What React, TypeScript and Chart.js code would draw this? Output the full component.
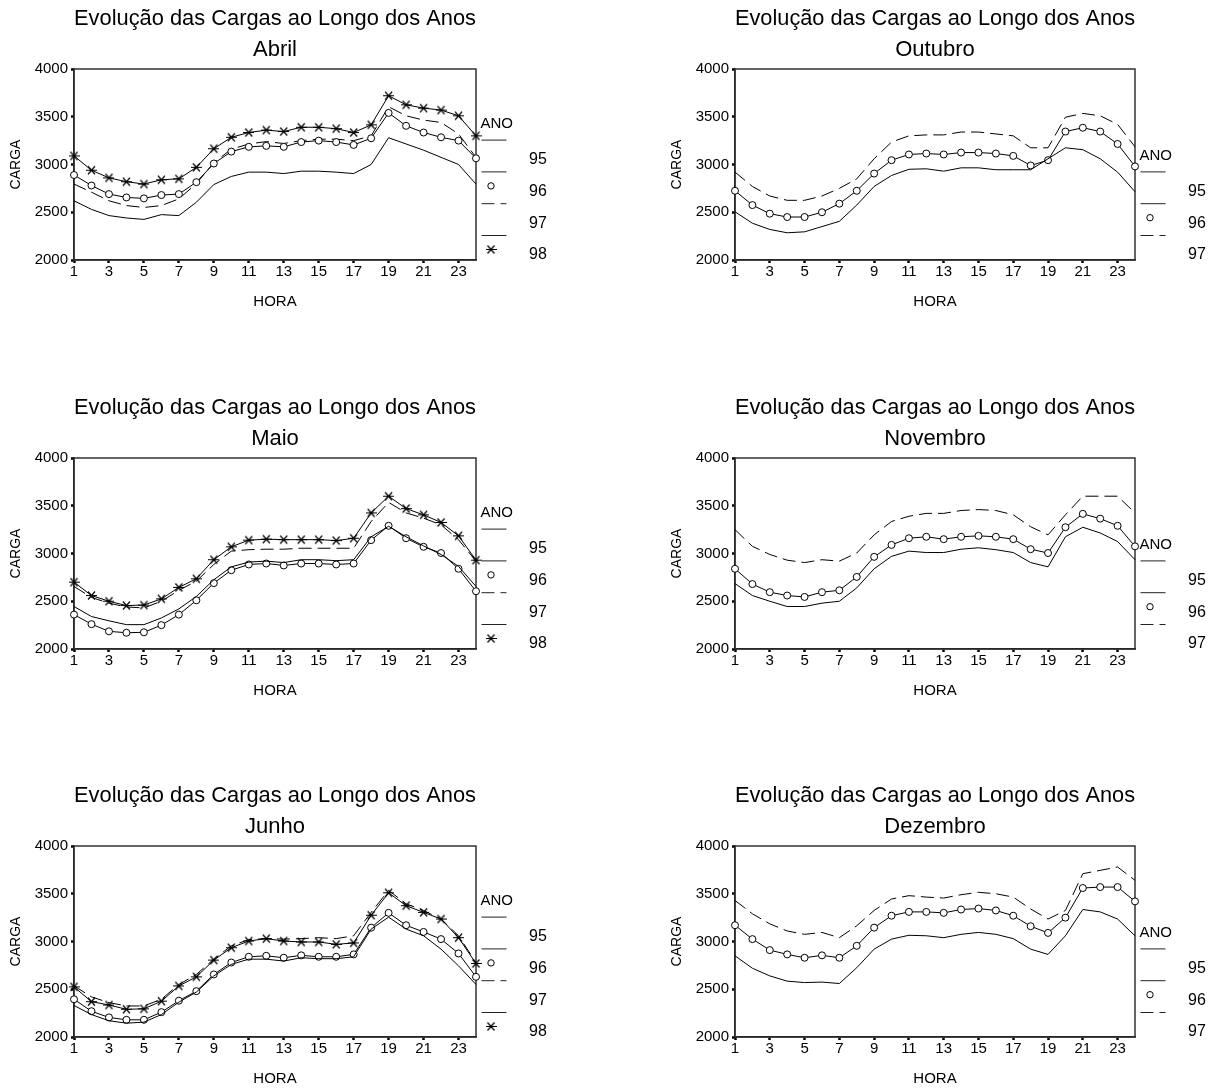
import React, { useEffect, useRef } from 'react';
import { Chart, registerables } from 'chart.js';

Chart.register(...registerables);

// ---------- data ----------
const HOURS = [1, 2, 3, 4, 5, 6, 7, 8, 9, 10, 11, 12, 13, 14, 15, 16, 17, 18, 19, 20, 21, 22, 23, 24];
const X_TICKS = [1, 3, 5, 7, 9, 11, 13, 15, 17, 19, 21, 23];
const Y_TICKS = [2000, 2500, 3000, 3500, 4000];
const Y_MIN = 2000;
const Y_MAX = 4000;
const TITLE = 'Evolução das Cargas ao Longo dos Anos';
const X_TITLE = 'HORA';
const Y_TITLE = 'CARGA';
const LEGEND_TITLE = 'ANO';

const abril95 = [2620, 2530, 2465, 2440, 2425, 2475, 2465, 2605, 2790, 2875, 2920, 2920, 2905, 2930, 2930, 2920, 2905, 3000, 3280, 3215, 3150, 3075, 3000, 2795];
const abril96 = [2890, 2780, 2690, 2655, 2645, 2680, 2690, 2815, 3010, 3135, 3185, 3195, 3185, 3235, 3250, 3235, 3205, 3275, 3540, 3405, 3335, 3285, 3250, 3065];
const abril97 = [2795, 2710, 2620, 2570, 2550, 2570, 2640, 2800, 3020, 3160, 3215, 3240, 3220, 3250, 3265, 3265, 3250, 3300, 3605, 3510, 3465, 3440, 3320, 3075];
const abril98 = [3090, 2940, 2860, 2820, 2795, 2840, 2850, 2970, 3165, 3285, 3335, 3360, 3345, 3390, 3390, 3375, 3335, 3415, 3720, 3625, 3590, 3570, 3510, 3300];

const outubro95 = [2505, 2385, 2320, 2285, 2295, 2350, 2405, 2575, 2770, 2885, 2950, 2955, 2930, 2965, 2965, 2945, 2945, 2945, 3060, 3175, 3155, 3060, 2920, 2715];
const outubro96 = [2725, 2575, 2485, 2450, 2450, 2500, 2590, 2725, 2905, 3045, 3105, 3115, 3105, 3125, 3125, 3115, 3090, 2990, 3045, 3345, 3385, 3345, 3215, 2980];
const outubro97 = [2920, 2770, 2670, 2625, 2625, 2670, 2750, 2850, 3060, 3235, 3300, 3310, 3310, 3340, 3340, 3320, 3300, 3175, 3175, 3495, 3535, 3510, 3420, 3185];

const maio95 = [2445, 2340, 2295, 2255, 2255, 2325, 2420, 2550, 2725, 2860, 2910, 2920, 2905, 2935, 2935, 2925, 2935, 3175, 3285, 3175, 3080, 2990, 2865, 2655];
const maio96 = [2360, 2260, 2185, 2170, 2175, 2250, 2360, 2510, 2690, 2825, 2885, 2895, 2875, 2895, 2895, 2885, 2895, 3140, 3290, 3160, 3070, 3005, 2840, 2605];
const maio97 = [2655, 2540, 2480, 2440, 2430, 2500, 2615, 2710, 2885, 3025, 3040, 3045, 3045, 3055, 3055, 3055, 3055, 3335, 3535, 3425, 3370, 3300, 3145, 2920];
const maio98 = [2700, 2560, 2500, 2455, 2460, 2525, 2645, 2735, 2935, 3070, 3140, 3150, 3145, 3145, 3145, 3135, 3160, 3425, 3600, 3470, 3405, 3325, 3185, 2930];

const novembro95 = [2685, 2560, 2500, 2445, 2445, 2480, 2500, 2640, 2840, 2970, 3025, 3010, 3010, 3045, 3060, 3040, 3010, 2905, 2860, 3175, 3275, 3215, 3125, 2935];
const novembro96 = [2840, 2680, 2595, 2560, 2545, 2595, 2615, 2755, 2965, 3090, 3160, 3175, 3150, 3175, 3185, 3175, 3150, 3045, 3005, 3275, 3415, 3365, 3290, 3075];
const novembro97 = [3250, 3075, 2990, 2930, 2905, 2935, 2920, 3005, 3195, 3335, 3390, 3420, 3420, 3450, 3460, 3450, 3405, 3280, 3195, 3405, 3600, 3600, 3600, 3425];

const junho95 = [2330, 2235, 2170, 2145, 2155, 2235, 2365, 2470, 2640, 2760, 2815, 2815, 2795, 2830, 2820, 2820, 2840, 3130, 3255, 3130, 3060, 2920, 2745, 2550];
const junho96 = [2395, 2270, 2205, 2180, 2180, 2260, 2380, 2480, 2655, 2780, 2840, 2850, 2830, 2855, 2840, 2840, 2865, 3145, 3300, 3170, 3100, 3025, 2875, 2630];
const junho97 = [2535, 2420, 2360, 2325, 2325, 2395, 2550, 2655, 2815, 2955, 3020, 3030, 3025, 3030, 3040, 3030, 3060, 3305, 3535, 3395, 3325, 3235, 3060, 2780];
const junho98 = [2525, 2370, 2335, 2290, 2295, 2375, 2535, 2630, 2805, 2935, 3005, 3030, 3005, 2995, 2995, 2970, 2985, 3275, 3510, 3375, 3305, 3235, 3040, 2770];

const dezembro95 = [2850, 2720, 2640, 2585, 2570, 2575, 2560, 2725, 2920, 3025, 3065, 3060, 3040, 3075, 3095, 3075, 3030, 2920, 2865, 3060, 3335, 3310, 3235, 3060];
const dezembro96 = [3170, 3025, 2910, 2865, 2830, 2855, 2830, 2955, 3145, 3270, 3310, 3310, 3300, 3335, 3345, 3325, 3270, 3160, 3090, 3250, 3560, 3570, 3570, 3420];
const dezembro97 = [3430, 3290, 3185, 3110, 3075, 3095, 3040, 3165, 3325, 3445, 3480, 3465, 3455, 3490, 3515, 3500, 3465, 3340, 3235, 3325, 3710, 3745, 3780, 3640];

const YEARS_4 = ['95', '96', '97', '98'];
const YEARS_3 = ['95', '96', '97'];

const PANELS = [
  { month: 'Abril', years: YEARS_4, series: [abril95, abril96, abril97, abril98], col: 0, row: 0 },
  { month: 'Outubro', years: YEARS_3, series: [outubro95, outubro96, outubro97], col: 1, row: 0 },
  { month: 'Maio', years: YEARS_4, series: [maio95, maio96, maio97, maio98], col: 0, row: 1 },
  { month: 'Novembro', years: YEARS_3, series: [novembro95, novembro96, novembro97], col: 1, row: 1 },
  { month: 'Junho', years: YEARS_4, series: [junho95, junho96, junho97, junho98], col: 0, row: 2 },
  { month: 'Dezembro', years: YEARS_3, series: [dezembro95, dezembro96, dezembro97], col: 1, row: 2 },
];

// ---------- layout / style ----------
const FONT = 'Arial, "Liberation Sans", Helvetica, sans-serif';
const COLS = [
  { left: 0, width: 600, padRight: 124 },
  { left: 661, width: 555, padRight: 81 },
];
const ROW_TOPS = [0, 389, 777];
const CANVAS_H = 320;
const DASH = [13, 6];

let starImg: HTMLCanvasElement | null = null;
function getStar(): HTMLCanvasElement {
  if (starImg) return starImg;
  const c = document.createElement('canvas');
  c.width = 11;
  c.height = 11;
  const g = c.getContext('2d')!;
  g.strokeStyle = '#000';
  g.lineWidth = 1.2;
  g.beginPath();
  g.moveTo(0, 5.5);
  g.lineTo(11, 5.5);
  g.moveTo(2, 1.5);
  g.lineTo(9, 9.5);
  g.moveTo(9, 1.5);
  g.lineTo(2, 9.5);
  g.stroke();
  starImg = c;
  return c;
}

function styleFor(year: string) {
  if (year === '96') return { borderDash: [], pointStyle: 'circle' as any, pointRadius: 3.5 };
  if (year === '97') return { borderDash: DASH, pointStyle: false as any, pointRadius: 0 };
  if (year === '98') return { borderDash: [], pointStyle: getStar() as any, pointRadius: 5 };
  return { borderDash: [], pointStyle: false as any, pointRadius: 0 };
}

const framePlugin = {
  id: 'frame',
  beforeDatasetsDraw(chart: any) {
    const { ctx, chartArea } = chart;
    const { left, top, right, bottom } = chartArea;
    ctx.save();
    ctx.strokeStyle = '#333';
    ctx.lineWidth = 1.5;
    ctx.strokeRect(left, top, right - left, bottom - top);
    ctx.restore();
  },
};

const anoLegend = {
  id: 'anoLegend',
  afterDraw(chart: any) {
    const { ctx, chartArea } = chart;
    const { right, top } = chartArea;
    const ds = chart.data.datasets;
    const n = ds.length;
    const step = 31.8;
    const lastY = top + 166.5;
    const firstY = lastY - (n - 1) * step;
    ctx.save();
    ctx.fillStyle = '#000';
    ctx.textBaseline = 'middle';
    ctx.textAlign = 'left';
    ctx.font = `15px ${FONT}`;
    ctx.fillText(LEGEND_TITLE, right + 4.5, firstY - 16);
    ds.forEach((d: any, i: number) => {
      const y = firstY + i * step;
      ctx.strokeStyle = '#222';
      ctx.lineWidth = 1;
      ctx.setLineDash(d.borderDash || []);
      ctx.beginPath();
      ctx.moveTo(right + 5.5, y);
      ctx.lineTo(right + 30.5, y);
      ctx.stroke();
      ctx.setLineDash([]);
      const ps = d.pointStyle;
      const mx = right + 15;
      const my = y + 14;
      if (ps === 'circle') {
        ctx.beginPath();
        ctx.arc(mx, my, 3.2, 0, Math.PI * 2);
        ctx.fillStyle = '#fff';
        ctx.fill();
        ctx.strokeStyle = '#000';
        ctx.stroke();
      } else if (ps && typeof ps === 'object') {
        ctx.drawImage(ps, mx - ps.width / 2, my - ps.height / 2);
      }
      ctx.fillStyle = '#000';
      ctx.font = `16px ${FONT}`;
      ctx.fillText(d.label, right + 53, y + 19.5);
    });
    ctx.restore();
  },
};

function ChartPanel({ panel }: { panel: (typeof PANELS)[number] }) {
  const ref = useRef<HTMLCanvasElement | null>(null);
  const col = COLS[panel.col];

  useEffect(() => {
    if (!ref.current) return;
    const datasets = panel.years.map((year, i) => {
      const st = styleFor(year);
      return {
        label: year,
        data: HOURS.map((h, k) => ({ x: h, y: panel.series[i][k] })),
        borderColor: '#000',
        borderWidth: 1,
        borderDash: st.borderDash,
        pointStyle: st.pointStyle,
        pointRadius: st.pointRadius,
        pointBackgroundColor: '#fff',
        pointBorderColor: '#000',
        pointBorderWidth: 1,
        fill: false,
        tension: 0,
        clip: false as any,
      };
    });

    const chart = new Chart(ref.current, {
      type: 'line',
      data: { datasets },
      plugins: [framePlugin, anoLegend],
      options: {
        animation: false,
        responsive: false,
        events: [],
        layout: { padding: { left: 0, top: 0, right: col.padRight, bottom: CANVAS_H - 315 } },
        plugins: {
          legend: { display: false },
          tooltip: { enabled: false },
          title: {
            display: true,
            text: TITLE,
            fullSize: false,
            color: '#000',
            font: { family: FONT, size: 22, weight: 'normal' as any },
            padding: { top: 5.4, bottom: 0 },
          },
          subtitle: {
            display: true,
            text: panel.month,
            fullSize: false,
            color: '#000',
            font: { family: FONT, size: 22, weight: 'normal' as any },
            padding: { top: 4.8, bottom: 6 },
          },
        },
        scales: {
          x: {
            type: 'linear',
            min: HOURS[0],
            max: HOURS[HOURS.length - 1],
            afterBuildTicks: (scale: any) => {
              scale.ticks = X_TICKS.map((v) => ({ value: v }));
            },
            afterFit: (scale: any) => {
              scale.height = 55;
            },
            ticks: {
              color: '#000',
              font: { family: FONT, size: 15 },
              padding: 0,
              maxRotation: 0,
              autoSkip: false,
              callback: (v: any) => String(v),
            },
            grid: {
              drawOnChartArea: false,
              drawTicks: true,
              tickLength: 3,
              tickWidth: 2.5,
              tickColor: '#000',
            },
            border: { display: true, color: '#000', width: 1.5 },
            title: {
              display: true,
              text: X_TITLE,
              color: '#000',
              font: { family: FONT, size: 15 },
              padding: { top: 0, bottom: 4.5 },
            },
          },
          y: {
            type: 'linear',
            min: Y_MIN,
            max: Y_MAX,
            afterBuildTicks: (scale: any) => {
              scale.ticks = Y_TICKS.map((v) => ({ value: v }));
            },
            afterFit: (scale: any) => {
              scale.width = 74;
            },
            ticks: {
              color: '#000',
              font: { family: FONT, size: 15 },
              padding: 3,
              callback: (v: any) => String(v),
            },
            grid: {
              drawOnChartArea: false,
              drawTicks: true,
              tickLength: 3,
              tickWidth: 2.5,
              tickColor: '#000',
            },
            border: { display: true, color: '#000', width: 1.5 },
            title: {
              display: true,
              text: Y_TITLE,
              color: '#000',
              font: { family: FONT, size: 14 },
              padding: { top: 7.6, bottom: 0 },
            },
          },
        },
      } as any,
    });
    return () => chart.destroy();
  }, [panel]);

  return (
    <canvas
      ref={ref}
      width={col.width}
      height={CANVAS_H}
      style={{ position: 'absolute', left: col.left, top: ROW_TOPS[panel.row], display: 'block' }}
    />
  );
}

export default function App() {
  return (
    <div
      style={{
        position: 'absolute',
        left: 0,
        top: 0,
        width: 1216,
        height: 1091,
        overflow: 'hidden',
        background: '#fff',
      }}
    >
      {PANELS.map((p) => (
        <ChartPanel key={p.month} panel={p} />
      ))}
    </div>
  );
}
